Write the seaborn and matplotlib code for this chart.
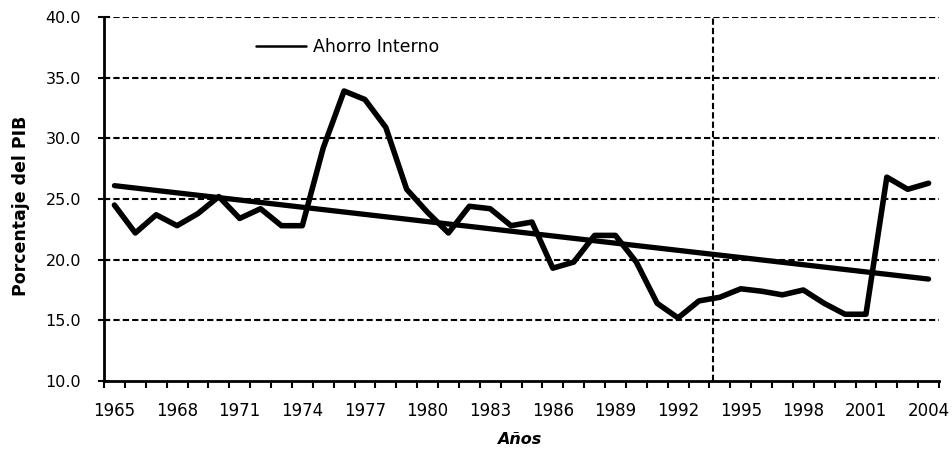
import matplotlib
matplotlib.use("Agg")
import matplotlib.pyplot as plt
import seaborn as sns
import pandas as pd
import numpy as np
from matplotlib.ticker import FixedLocator

years = list(range(1965, 2005))
ahorro = [24.5, 22.2, 23.7, 22.8, 23.8, 25.2, 23.4, 24.2, 22.8, 22.8,
          29.2, 33.9, 33.2, 30.9, 25.8, 23.9, 22.2, 24.4, 24.2, 22.8,
          23.1, 19.3, 19.8, 22.0, 22.0, 19.8, 16.4, 15.2, 16.6, 16.9,
          17.6, 17.4, 17.1, 17.5, 16.4, 15.5, 15.5, 26.8, 25.8, 26.3]
trend_years = [1965, 2004]
trend_values = [26.1, 18.4]
vline_year = 1993.65
ytick_values = [10, 15, 20, 25, 30, 35, 40]
xtick_years = list(range(1965, 2005, 3))

sns.set_style("white")
plt.rcParams['font.family'] = ['DejaVu Sans']
plt.rcParams.update({"text.color": "black", "axes.labelcolor": "black",
                     "xtick.color": "black", "ytick.color": "black"})

df = pd.DataFrame({"Año": years, "Ahorro Interno": ahorro})
df_trend = pd.DataFrame({"Año": trend_years, "Tendencia": trend_values})

fig = plt.figure(figsize=(9.52, 4.57), dpi=100)
ax = fig.add_axes([104/952, 1 - 381/457, (939-104)/952, (381-17)/457])

# gridlines
for v in ytick_values[1:]:
    ax.axhline(v, color="black", lw=1.5, ls=(0, (3, 1.5)), zorder=1)
ax.axvline(vline_year, color="black", lw=1.5, ls=(0, (3, 1.5)), zorder=1)

sns.lineplot(data=df, x="Año", y="Ahorro Interno", ax=ax, color="black",
             lw=4, label="Ahorro Interno", zorder=3)
sns.lineplot(data=df_trend, x="Año", y="Tendencia", ax=ax, color="black",
             lw=3.8, zorder=3, legend=False)

ax.set_xlim(1964.5, 2004.5)
ax.set_ylim(10, 40)
ax.set_yticks(ytick_values)
ax.set_yticklabels([f"{v:.1f}" for v in ytick_values], fontsize=11.5)
ax.set_xticks(xtick_years)
ax.set_xticklabels([str(y) for y in xtick_years], fontsize=12)
ax.xaxis.set_minor_locator(FixedLocator(np.arange(1964.5, 2005, 1.0)))
ax.tick_params(axis="x", which="major", length=0, pad=15)
ax.tick_params(axis="x", which="minor", length=5, width=1.5, direction="out", bottom=True)
ax.tick_params(axis="y", which="major", length=9, width=1.5, direction="inout", pad=12, left=True)

for s in ["top", "right"]:
    ax.spines[s].set_visible(False)
for s in ["left", "bottom"]:
    ax.spines[s].set_color("black")
    ax.spines[s].set_linewidth(2)

ax.set_ylabel("Porcentaje del PIB", fontsize=12.5, fontweight="bold")
ax.yaxis.set_label_coords(-0.089, 0.48)
ax.set_xlabel("Años", fontsize=11.5, fontweight="bold", fontstyle="italic")
ax.xaxis.set_label_coords(0.497, -0.14)

leg = ax.legend(loc="upper left", bbox_to_anchor=(0.163, 0.985), frameon=False,
                fontsize=12.5, handlelength=2.9, handletextpad=0.4)
for ln in leg.get_lines():
    ln.set_linewidth(1.8)

fig.savefig("out.png", dpi=100)
